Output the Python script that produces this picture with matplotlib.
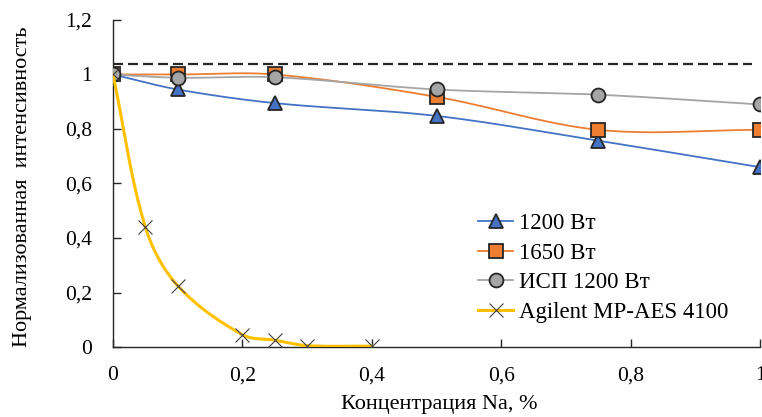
"""
Нормализованная интенсивность vs концентрация Na
"""

import numpy as np
import matplotlib
matplotlib.use('Agg')
import matplotlib.pyplot as plt

# data
x_main = [0, 0.1, 0.25, 0.5, 0.75, 1.0]
y_1200 = [1.0, 0.945, 0.895, 0.848, 0.757, 0.66]
y_1650 = [1.0, 1.0, 1.0, 0.918, 0.797, 0.797]
y_icp = [1.0, 0.988, 0.99, 0.945, 0.926, 0.89]

x_agilent = [0, 0.05, 0.1, 0.2, 0.25, 0.3, 0.4]
y_agilent = [1.0, 0.44, 0.225, 0.045, 0.025, 0.005, 0.003]

x_ref = [0, 0.988]
y_ref = [1.04, 1.04]

labels = ['1200 Вт', '1650 Вт', 'ИСП 1200 Вт', 'Agilent MP-AES 4100']
x_ticks = [0, 0.2, 0.4, 0.6, 0.8, 1.0]
y_ticks = [0, 0.2, 0.4, 0.6, 0.8, 1.0, 1.2]


# smoothed line through the points (bezier, tangents from neighbours,
# worked out in screen-like units so the aspect does not skew it)
def smooth(xs, ys, n=40, kx=647.0, ky=274.0):
    p = np.column_stack([np.array(xs) * kx, np.array(ys) * ky])
    m = len(p)
    tang = np.zeros_like(p)
    for i in range(m):
        a = p[max(i - 1, 0)]
        b = p[min(i + 1, m - 1)]
        d = b - a
        tang[i] = d / np.hypot(*d)
    out = []
    for i in range(m - 1):
        p1, p2 = p[i], p[i + 1]
        L = np.hypot(*(p2 - p1))
        c1 = p1 + tang[i] * L / 3
        c2 = p2 - tang[i + 1] * L / 3
        t = np.linspace(0, 1, n)[:, None]
        seg = ((1 - t) ** 3) * p1 + 3 * ((1 - t) ** 2) * t * c1 + 3 * (1 - t) * t ** 2 * c2 + t ** 3 * p2
        out.append(seg)
    out = np.vstack(out)
    return out[:, 0] / kx, out[:, 1] / ky


plt.rcParams['font.family'] = ['Liberation Serif', 'DejaVu Serif']

fig = plt.figure(figsize=(7.62, 4.17), dpi=100)
ax = fig.add_axes([113 / 762, 70 / 417, 647 / 762, 327 / 417])

ax.plot(x_ref, y_ref, color='#262626', lw=1.6, dashes=(4.5, 2.25), zorder=1)

blue = '#4472C4'
orange = '#ED7D31'
gray = '#A5A5A5'
yellow = '#FFC000'
edge = '#262626'

sx, sy = smooth(x_main, y_1200)
ax.plot(sx, sy, color=blue, lw=1.3, zorder=2)
ax.plot(x_main, y_1200, ls='none', marker='^', ms=10, mfc=blue, mec=edge, mew=1.3, zorder=3)

sx, sy = smooth(x_main, y_1650)
ax.plot(sx, sy, color=orange, lw=1.3, zorder=4)
ax.plot(x_main, y_1650, ls='none', marker='s', ms=9.5, mfc=orange, mec=edge, mew=1.3, zorder=5)

sx, sy = smooth(x_main, y_icp)
ax.plot(sx, sy, color=gray, lw=1.3, zorder=6)
ax.plot(x_main, y_icp, ls='none', marker='o', ms=10, mfc=gray, mec=edge, mew=1.3, zorder=7)

sx, sy = smooth(x_agilent, y_agilent)
ax.plot(sx, sy, color=yellow, lw=2.2, zorder=8)
ax.plot(x_agilent, y_agilent, ls='none', marker='x', ms=10, mec='#404040', mew=0.8, zorder=9)

# legend handles
h1, = ax.plot([], [], color=blue, lw=1.3, marker='^', ms=10, mfc=blue, mec=edge, mew=1.3)
h2, = ax.plot([], [], color=orange, lw=1.3, marker='s', ms=9.5, mfc=orange, mec=edge, mew=1.3)
h3, = ax.plot([], [], color=gray, lw=1.3, marker='o', ms=10, mfc=gray, mec=edge, mew=1.3)
h4, = ax.plot([], [], color=yellow, lw=2.2, marker='x', ms=10, mec='#404040', mew=0.8)
ax.legend([h1, h2, h3, h4], labels, loc='upper left', bbox_to_anchor=(0.564, 0.41),
          frameon=False, fontsize=16.5, handlelength=1.55, handletextpad=0.25,
          labelspacing=0.38, borderaxespad=0, borderpad=0)

ax.set_xlim(0, 1)
ax.set_ylim(0, 1.2)
ax.set_xticks(x_ticks)
ax.set_yticks(y_ticks)
ax.set_xticklabels([('%g' % v).replace('.', ',') for v in x_ticks], fontsize=15.5)
ax.set_yticklabels([('%g' % v).replace('.', ',') for v in y_ticks], fontsize=15.5)
ax.tick_params(axis='y', direction='in', length=6, width=1, color='#262626', pad=15)
ax.tick_params(axis='x', direction='in', length=6, width=1, color='#262626', pad=14)
for s in ['top', 'right']:
    ax.spines[s].set_visible(False)
for s in ['left', 'bottom']:
    ax.spines[s].set_color('#262626')
    ax.spines[s].set_linewidth(1)

ax.set_xlabel('Концентрация Na, %', fontsize=16)
ax.xaxis.set_label_coords(0.505, -0.148)
ax.set_ylabel('Нормализованная  интенсивность', fontsize=16)
ax.yaxis.set_label_coords(-0.125, 0.49)

fig.savefig('out.png', dpi=100)
